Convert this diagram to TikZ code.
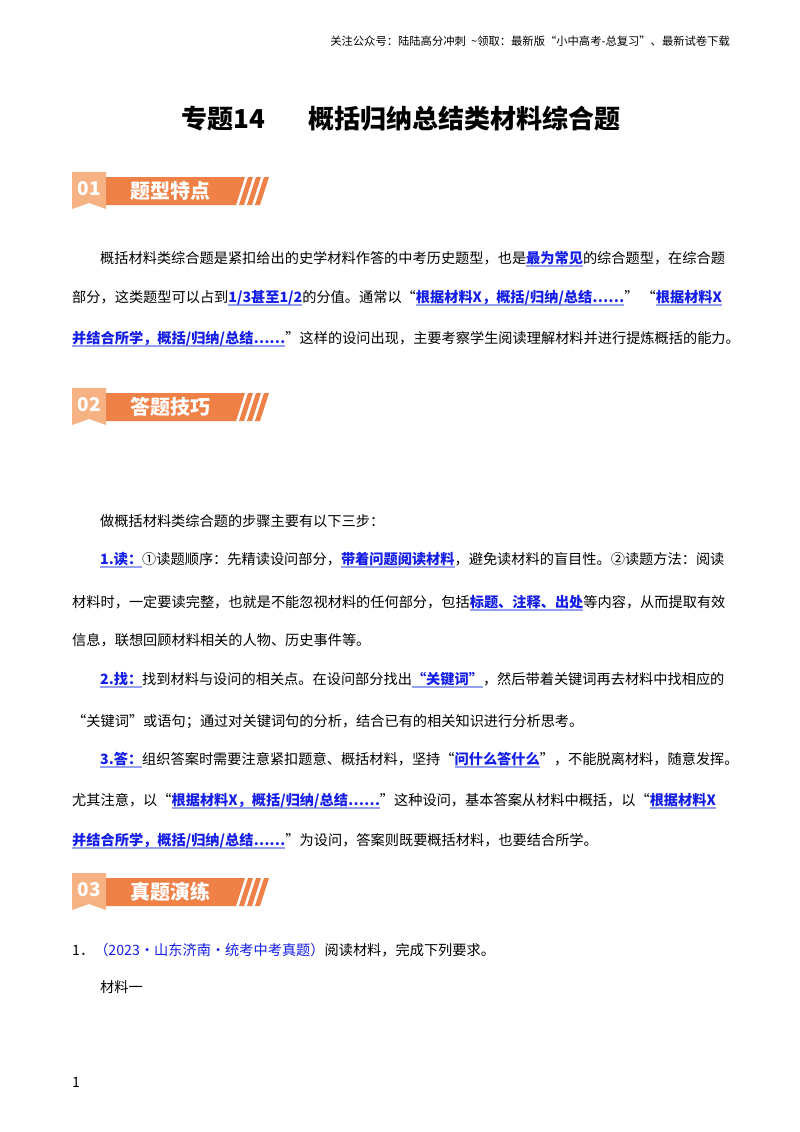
\documentclass[tikz,border=0pt]{standalone}
\usepackage{fontspec}
\setmainfont{Noto Sans CJK SC}
\usepackage{xcolor}
\definecolor{hlblue}{RGB}{20,30,230}
\definecolor{ulblue}{RGB}{150,160,240}
\definecolor{orL}{RGB}{246,178,130}
\definecolor{orD}{RGB}{239,128,70}
\newcommand\hl[1]{\setbox0\hbox{{\color{hlblue}\bfseries #1}}\rlap{{\color{ulblue}\rule[-3.5pt]{\wd0}{1.8pt}}}\box0}
\tikzset{
  body/.style={anchor=base west,inner sep=0pt,font=\fontsize{14.2}{16}\selectfont},
  badgenum/.style={anchor=center,inner sep=0pt,text=white,font=\fontsize{19}{20}\selectfont\bfseries},
  badgetxt/.style={anchor=center,inner sep=0pt,text=white,font=\fontsize{20}{22}\selectfont\bfseries},
}
\newcommand\badge[4]{% y, num, title, name
  \fill[orL] (72,#1-19) -- (106,#1-19) -- (106,#1+18) -- (89,#1+12) -- (72,#1+18) -- cycle;
  \fill[orD] (106,#1-14) -- (245,#1-14) -- (236,#1+14) -- (106,#1+14) -- cycle;
  \foreach \dx in {0,8,16}{\fill[orD] (248+\dx,#1-14) -- (253+\dx,#1-14) -- (244+\dx,#1+14) -- (239+\dx,#1+14) -- cycle;}
  \node[badgenum] (#4n) at (89,#1-2) {#2};
  \node[badgetxt] (#4t) at (170,#1) {#3};
}
\begin{document}
\begin{tikzpicture}[x=1pt,y=-1pt]
\useasboundingbox (0,0) rectangle (800,1132);
\fill[white] (0,0) rectangle (800,1132);
\node[anchor=base east,inner sep=0pt,font=\fontsize{11.3}{12}\selectfont] (hdr) at (730,46) {关注公众号：陆陆高分冲刺\ \ \textasciitilde 领取：最新版“小中高考-总复习”、最新试卷下载};
\node[anchor=base,inner sep=0pt,font=\fontsize{26}{28}\selectfont\bfseries] (title) at (401,128) {专题14\hspace{44pt}概括归纳总结类材料综合题};
\badge{191}{01}{题型特点}{b1}
\node[body] (p1) at (100,263) {概括材料类综合题是紧扣给出的史学材料作答的中考历史题型，也是\hl{最为常见}的综合题型，在综合题};
\node[body] (p2) at (72,302) {部分，这类题型可以占到\hl{1/3甚至1/2}的分值。通常以“\hl{根据材料X，概括/归纳/总结……}”\ “\hl{根据材料X}};
\node[body] (p3) at (72,343) {\hl{并结合所学，概括/归纳/总结……}”这样的设问出现，主要考察学生阅读理解材料并进行提炼概括的能力。};
\badge{407}{02}{答题技巧}{b2}
\node[body] (q0) at (100,526) {做概括材料类综合题的步骤主要有以下三步：};
\node[body] (q1) at (100,564) {\hl{1.读：}①读题顺序：先精读设问部分，\hl{带着问题阅读材料}，避免读材料的盲目性。②读题方法：阅读};
\node[body] (q2) at (72,607) {材料时，一定要读完整，也就是不能忽视材料的任何部分，包括\hl{标题、注释、出处}等内容，从而提取有效};
\node[body] (q3) at (72,645) {信息，联想回顾材料相关的人物、历史事件等。};
\node[body] (q4) at (100,684) {\hl{2.找：}找到材料与设问的相关点。在设问部分找出\hl{“关键词”}，然后带着关键词再去材料中找相应的};
\node[body] (q5) at (72,726) {“关键词”或语句；通过对关键词句的分析，结合已有的相关知识进行分析思考。};
\node[body] (q6) at (100,764) {\hl{3.答：}组织答案时需要注意紧扣题意、概括材料，坚持“\hl{问什么答什么}”，不能脱离材料，随意发挥。};
\node[body] (q7) at (72,805) {尤其注意，以“\hl{根据材料X，概括/归纳/总结……}”这种设问，基本答案从材料中概括，以“\hl{根据材料X}};
\node[body] (q8) at (72,845) {\hl{并结合所学，概括/归纳/总结……}”为设问，答案则既要概括材料，也要结合所学。};
\badge{892}{03}{真题演练}{b3}
\node[body] (r1) at (72,955) {1．{\color{hlblue}（2023•山东济南•统考中考真题）}阅读材料，完成下列要求。};
\node[body] (r2) at (100,992) {材料一};
\node[body] (pg) at (72,1087) {1};
\end{tikzpicture}
\end{document}
